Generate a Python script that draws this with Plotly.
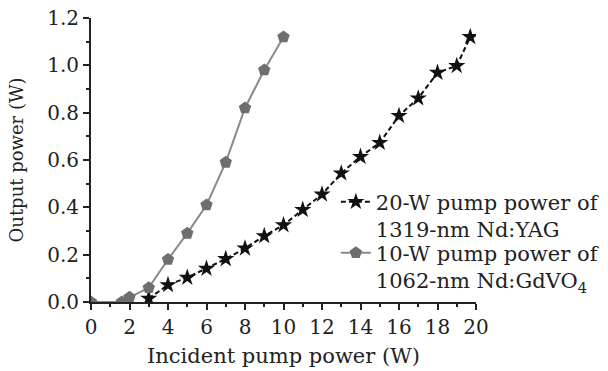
import plotly.graph_objects as go

# Data
yag_x = [3, 4, 5, 6, 7, 8, 9, 10, 11, 12, 13, 14, 15, 16, 17, 18, 19, 19.7]
yag_y = [0.015, 0.072, 0.103, 0.141, 0.182, 0.227, 0.279, 0.325, 0.39, 0.455,
         0.544, 0.614, 0.673, 0.787, 0.861, 0.969, 0.998, 1.12]
gdvo_x = [0, 1.6, 2, 3, 4, 5, 6, 7, 8, 9, 10]
gdvo_y = [0, 0, 0.02, 0.06, 0.18, 0.29, 0.41, 0.59, 0.82, 0.98, 1.12]

yag_name = "20-W pump power of<br>1319-nm Nd:YAG"
gdvo_name = "10-W pump power of<br>1062-nm Nd:GdVO<sub>4</sub>"

FONT = "DejaVu Serif"
INK = "#222222"

fig = go.Figure()
fig.add_trace(go.Scatter(
    x=yag_x, y=yag_y, name=yag_name, mode="lines+markers", legend="legend",
    line=dict(color="#111111", width=2, dash="5px,3px"),
    marker=dict(symbol="star", size=13, color="#111111"),
))
fig.add_trace(go.Scatter(
    x=gdvo_x, y=gdvo_y, name=gdvo_name, mode="lines+markers", legend="legend2",
    line=dict(color="#8a8a8a", width=2),
    marker=dict(symbol="pentagon", size=13, color="#6e6e6e"),
))

legend_common = dict(xanchor="left", yanchor="top", valign="top",
                     bgcolor="rgba(0,0,0,0)", font=dict(size=21, color=INK),
                     itemwidth=30)

fig.update_layout(
    width=608, height=371,
    margin=dict(l=91, r=132, t=18, b=69, autoexpand=False),
    paper_bgcolor="white", plot_bgcolor="white",
    font=dict(family=FONT, size=18, color=INK),
    showlegend=True,
    legend=dict(x=0.636, y=0.424, **legend_common),
    legend2=dict(x=0.636, y=0.244, **legend_common),
    xaxis=dict(
        automargin=False,
        range=[0, 20], tickmode="array", tickvals=list(range(0, 21, 2)),
        showgrid=False, zeroline=False, showline=True, linecolor=INK,
        linewidth=2, ticks="outside", ticklen=6, tickwidth=2, tickcolor=INK,
        minor=dict(ticks="outside", ticklen=3, tickwidth=1.5, tickcolor=INK, dtick=1),
        tickfont=dict(size=20),
        title=dict(text="Incident pump power (W)", font=dict(size=21), standoff=10),
    ),
    yaxis=dict(
        automargin=False,
        range=[0, 1.2], tickmode="array", tickvals=[0, 0.2, 0.4, 0.6, 0.8, 1.0, 1.2],
        ticktext=["0.0", "0.2", "0.4", "0.6", "0.8", "1.0", "1.2"],
        showgrid=False, zeroline=False, showline=True, linecolor=INK,
        linewidth=2, ticks="outside", ticklen=6, tickwidth=2, tickcolor=INK,
        minor=dict(ticks="outside", ticklen=3, tickwidth=1.5, tickcolor=INK, dtick=0.1),
        tickfont=dict(size=20),
        title=dict(text="Output power (W)", font=dict(size=18), standoff=19),
    ),
)

# remove the browser's default 8px body margin so the figure fills the window
fig.write_html("out.html", config={"displayModeBar": False},
               post_script="document.body.style.margin='0';")
